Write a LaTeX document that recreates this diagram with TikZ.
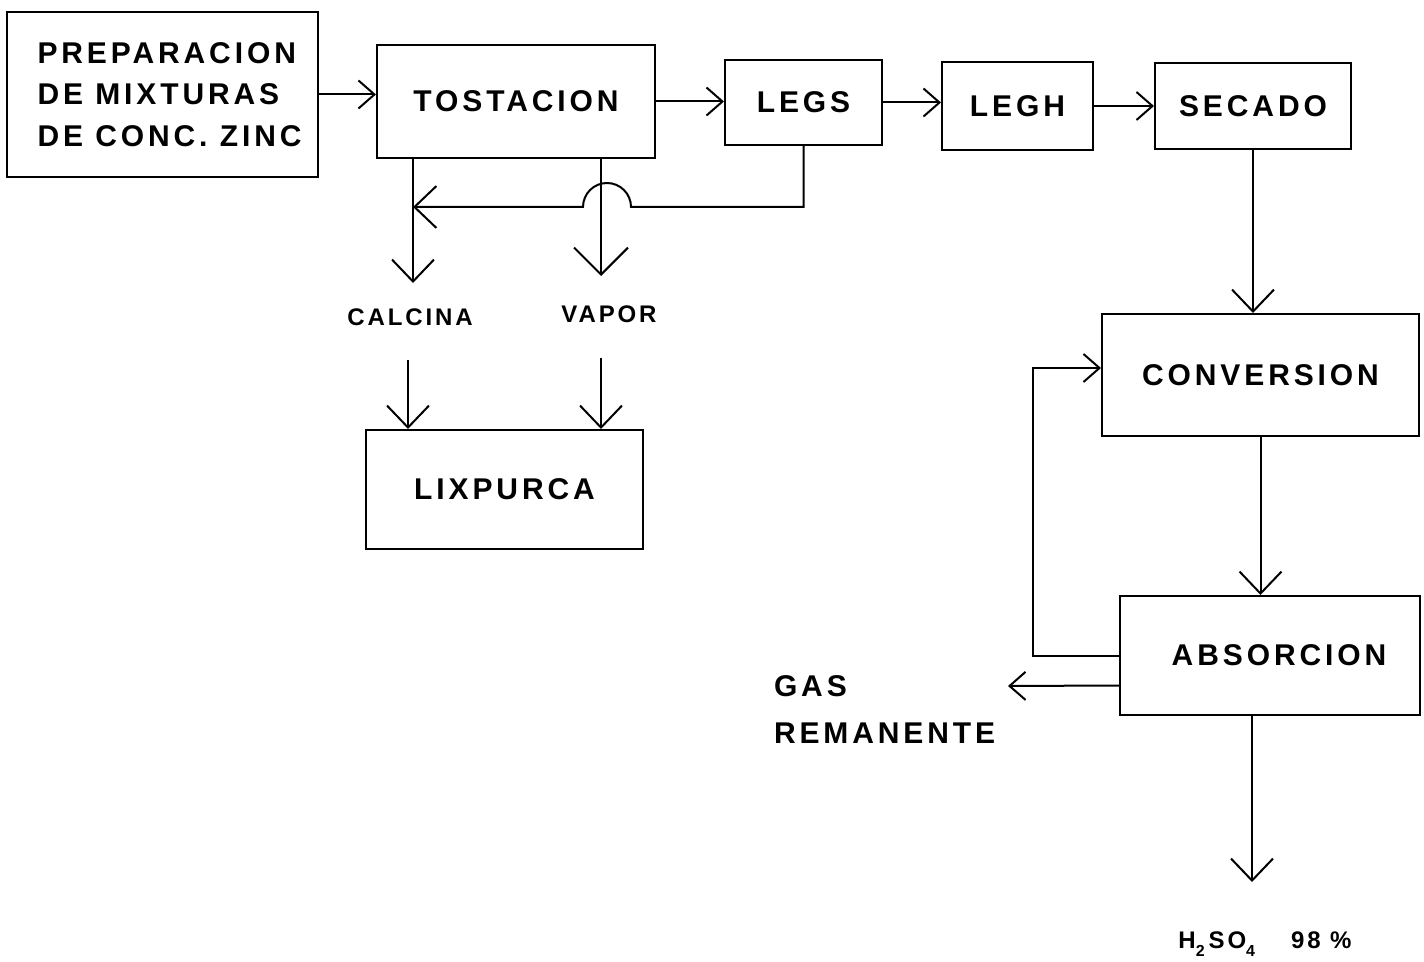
\documentclass[tikz,border=0pt]{standalone}
\usepackage{fontspec}
\newfontfamily\fmain[LetterSpace=13]{Liberation Sans}
\newfontfamily\fsmall[LetterSpace=12]{Liberation Sans}
\usetikzlibrary{arrows.meta}
\begin{document}
\begin{tikzpicture}[x=0.5pt,y=-0.5pt, line width=1pt,
  box/.style={draw, line width=1pt, inner sep=0pt, font=\fmain\bfseries\fontsize{15}{20.75}\selectfont},
  big/.style={-{Straight Barb[length=11pt,width=21pt]}},
  bigger/.style={-{Straight Barb[length=13.5pt,width=27pt]}},
  small/.style={-{Straight Barb[length=8pt,width=14pt]}},
  lbl/.style={font=\fsmall\bfseries\fontsize{12}{14}\selectfont, inner sep=0pt}]
\useasboundingbox (0,0) rectangle (1424,962);

% boxes
\node[box, minimum width=155.5pt, minimum height=82.5pt, align=left] (prep) at (162.5,94.5) {\hspace*{7pt}PREPARACION\\\hspace*{7pt}DE MIXTURAS\\\hspace*{7pt}DE CONC. ZINC};
\node[box, minimum width=139pt, minimum height=56.5pt] (tost) at (516,101.5) {TOSTACION};
\node[box, minimum width=78.5pt, minimum height=42.5pt] (legs) at (803.5,102.5) {LEGS};
\node[box, minimum width=75.5pt, minimum height=44pt] (legh) at (1017.5,106) {LEGH};
\node[box, minimum width=98pt, minimum height=43pt] (sec) at (1253,106) {SECADO};
\node[box, minimum width=158.5pt, minimum height=61pt] (conv) at (1260.5,375) {CONVERSION};
\node[box, minimum width=150pt, minimum height=59.5pt] (abs) at (1270,655.5) {\hspace*{9pt}ABSORCION};
\node[box, minimum width=138.5pt, minimum height=59.5pt] (lix) at (504.5,489.5) {LIXPURCA};

% labels
\node[lbl] (calc) at (410,317) {CALCINA};
\node[lbl] (vap) at (609,314) {VAPOR};
\node[anchor=west, align=left, inner sep=0pt, font=\fmain\bfseries\fontsize{15}{23.5}\selectfont] (gas) at (773,709.5) {GAS\\REMANENTE};
\node[lbl] (prod) at (1265,944) {H\raisebox{-4pt}{\fontsize{8}{8}\selectfont 2}\hspace{2pt}SO\raisebox{-4pt}{\fontsize{8}{8}\selectfont 4}\hspace{18pt}98 \%};

% free ends
\coordinate (ctip) at (413,283);
\coordinate (vtip) at (601,276);
\coordinate (cin) at (408,360);
\coordinate (vin) at (601,358);
\coordinate (gasend) at (1008,686);
\coordinate (ptip) at (1252,882);
\coordinate (fb) at (1033,0);
\coordinate (rec) at (413,207);

% connectors
\draw[small] (prep.east) -- (prep.east -| tost.west);
\draw[small] (tost.east) -- (tost.east -| legs.west);
\draw[small] (legs.east) -- (legs.east -| legh.west);
\draw[small] (legh.east) -- (legh.east -| sec.west);
\draw[big] (sec.south) -- (sec.south |- conv.north);
\draw[big] (conv.south) -- (conv.south |- abs.north);
\draw[big] ([xshift=-9pt]abs.south) -- (ptip);
\draw[small] (abs.west) -- (abs.west -| fb) |- ([yshift=3.5pt]conv.west);
\draw[small] ([yshift=-15pt]abs.west) -- (gasend);
\draw[big] (tost.south -| ctip) -- (ctip);
\draw[bigger] (tost.south -| vtip) -- (vtip);
\draw[big] (cin) -- (cin |- lix.north);
\draw[big] (vin) -- (vin |- lix.north);
\draw[big] (legs.south) |- (631,207) arc[start angle=0, end angle=180, radius=12pt] -- (rec);
\end{tikzpicture}
\end{document}
